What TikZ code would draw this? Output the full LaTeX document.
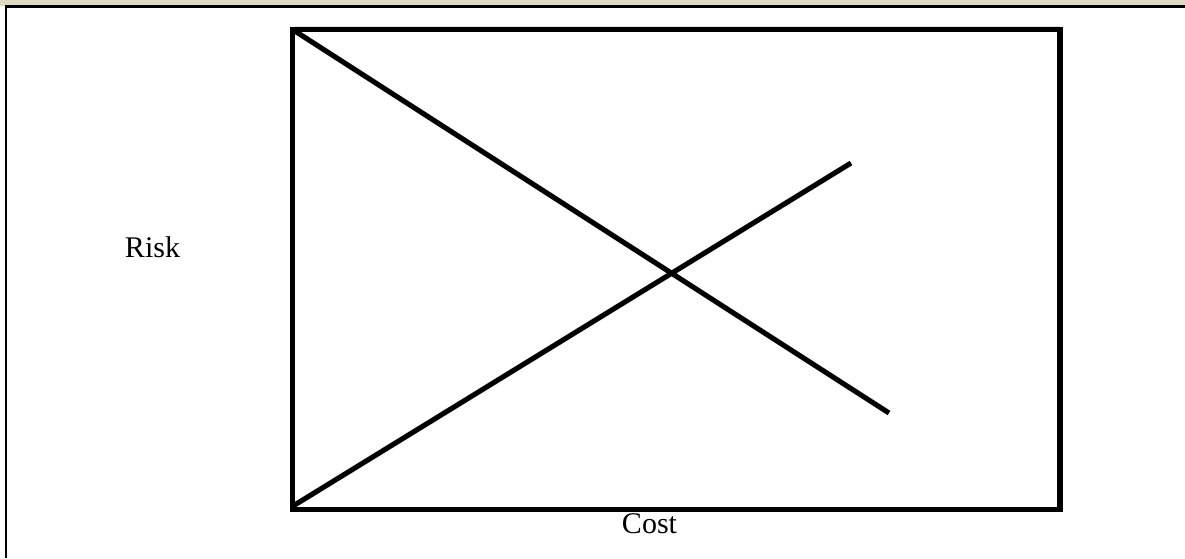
\documentclass[tikz,border=0pt]{standalone}
\usepackage{fontspec}
\setmainfont{Liberation Serif}
\definecolor{bandtan}{HTML}{DDD9C3}
\begin{document}
\begin{tikzpicture}[x=1pt,y=-1pt,
  thick line/.style={line width=5.2pt,black,line cap=rect},
  diag line/.style={line width=5pt,black,line cap=butt},
  soft shadow/.style={line width=6pt,black,opacity=0.12,line cap=butt},
  label text/.style={font=\fontsize{30}{36}\selectfont,inner sep=0pt,anchor=base}]
\useasboundingbox (0,0) rectangle (1185,558);
% frame
\fill[bandtan] (0,0) rectangle (1185,6);
\draw[line width=2.6pt] (5,6.5) -- (1185,6.5);
\draw[line width=2.4pt] (6,5) -- (6,558);
% coordinates
\coordinate (tl) at (292.5,29.5);
\coordinate (tr) at (1060,29.5);
\coordinate (br) at (1060,509.5);
\coordinate (bl) at (292.5,509.5);
\coordinate (e1) at (889,413);
\coordinate (s2) at (293,506);
\coordinate (e2) at (851,163);
% shadows
\begin{scope}[shift={(1.8,1.8)}]
\draw[soft shadow] (tl) -- (e1);
\draw[soft shadow] (s2) -- (e2);
\draw[soft shadow,line width=3pt] ([xshift=2pt,yshift=2pt]tl) -- ([yshift=2pt]tr);
\draw[soft shadow,line width=3pt] ([xshift=2pt]bl) -- (br);
\end{scope}
% rectangle
\draw[thick line,line join=miter] (tl) -- (tr) -- (br) -- (bl) -- cycle;
% diagonals
\draw[diag line] (tl) -- (e1);
\draw[diag line] (s2) -- (e2);
% labels
\node[label text] (risk) at (152.5,257) {Risk};
\node[label text] (cost) at (649.5,533) {Cost};
\end{tikzpicture}
\end{document}
